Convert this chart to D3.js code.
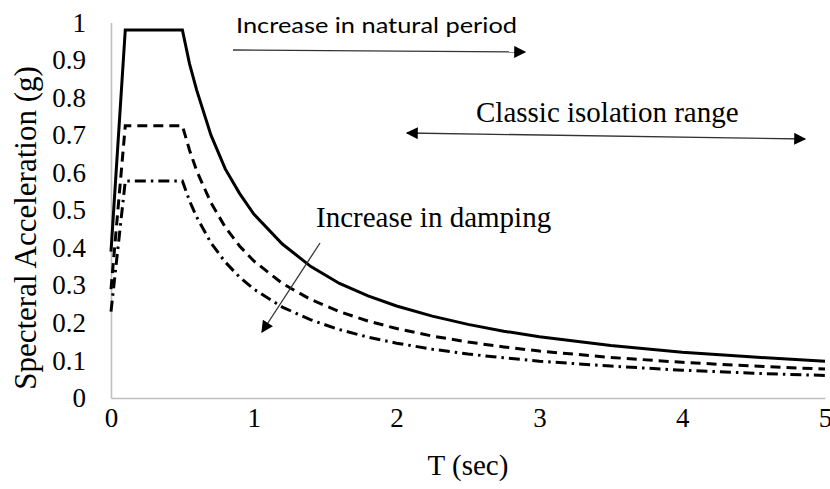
<!DOCTYPE html>
<html>
<head>
<meta charset="utf-8">
<script src="https://cdn.jsdelivr.net/npm/d3@7"></script>
<style>
  html, body { margin: 0; padding: 0; background: #fff; }
  svg { display: block; }
</style>
</head>
<body>
<svg id="chart" width="830" height="489"></svg>
<script>
// ---- data ----
const periods = [0, 0.1, 0.5, 0.55, 0.6, 0.7, 0.8, 0.9, 1.0, 1.2, 1.4, 1.6, 1.8, 2.0, 2.25, 2.5, 2.75, 3.0, 3.5, 4.0, 4.5, 5.0];
const saLowDamping  = [0.39, 0.98, 0.98, 0.89, 0.82, 0.70, 0.61, 0.545, 0.49, 0.41, 0.35, 0.305, 0.272, 0.245, 0.218, 0.196, 0.178, 0.163, 0.14, 0.122, 0.109, 0.098];
const saMidDamping  = [0.29, 0.725, 0.725, 0.66, 0.605, 0.52, 0.455, 0.405, 0.365, 0.305, 0.262, 0.23, 0.205, 0.185, 0.165, 0.149, 0.136, 0.125, 0.108, 0.095, 0.085, 0.077];
const saHighDamping = [0.23, 0.578, 0.578, 0.525, 0.482, 0.413, 0.362, 0.322, 0.29, 0.242, 0.208, 0.182, 0.162, 0.146, 0.13, 0.117, 0.107, 0.098, 0.085, 0.074, 0.066, 0.06];
const xTicks = [0, 1, 2, 3, 4, 5];
const yTicks = [0, 0.1, 0.2, 0.3, 0.4, 0.5, 0.6, 0.7, 0.8, 0.9, 1];
const xTitle = "T (sec)";
const yTitle = "Specteral Acceleration (g)";
const notePeriod = "Increase in natural period";
const noteIsolation = "Classic isolation range";
const noteDamping = "Increase in damping";

// ---- layout ----
const svg = d3.select("#chart");
const x = d3.scaleLinear().domain([0, 5]).range([111, 825]);
const y = d3.scaleLinear().domain([0, 1]).range([398, 22.5]);
const serif = "'Liberation Serif', 'Times New Roman', serif";
const axisGrey = "#bfbfbf";

// arrow markers
const defs = svg.append("defs");
defs.append("marker").attr("id", "arrowEnd")
  .attr("viewBox", "0 0 10 10").attr("refX", 9).attr("refY", 5)
  .attr("markerWidth", 14).attr("markerHeight", 12).attr("markerUnits", "userSpaceOnUse")
  .attr("orient", "auto")
  .append("path").attr("d", "M0,0 L10,5 L0,10 z").attr("fill", "#000");
defs.append("marker").attr("id", "arrowStart")
  .attr("viewBox", "0 0 10 10").attr("refX", 1).attr("refY", 5)
  .attr("markerWidth", 14).attr("markerHeight", 12).attr("markerUnits", "userSpaceOnUse")
  .attr("orient", "auto")
  .append("path").attr("d", "M10,0 L0,5 L10,10 z").attr("fill", "#000");

// axes
const xAxis = d3.axisBottom(x).tickValues(xTicks).tickSize(0).tickPadding(10).tickFormat(d3.format("d"));
const yAxis = d3.axisLeft(y).tickValues(yTicks).tickSize(0).tickPadding(25).tickFormat(d => d === 0 || d === 1 ? String(d) : d3.format(".1f")(d));

const gx = svg.append("g").attr("transform", `translate(0,${y(0)})`).call(xAxis);
const gy = svg.append("g").attr("transform", `translate(${x(0)},0)`).call(yAxis);
[gx, gy].forEach(g => {
  g.select(".domain").attr("stroke", axisGrey).attr("stroke-width", 1.6);
  g.selectAll("text").attr("font-family", serif).attr("font-size", 27).attr("fill", "#000");
});
gx.selectAll("text").attr("dy", "0.71em");

// axis titles
svg.append("text").attr("x", (x(0) + x(5)) / 2).attr("y", 475)
  .attr("text-anchor", "middle").attr("font-family", serif).attr("font-size", 29).text(xTitle);
svg.append("text").attr("transform", "translate(36,228) rotate(-90)")
  .attr("text-anchor", "middle").attr("font-family", serif).attr("font-size", 31).text(yTitle);

// curves
const series = [
  { values: saLowDamping,  dash: null,             width: 3 },
  { values: saMidDamping,  dash: "10,6",           width: 3 },
  { values: saHighDamping, dash: "11,5,2.5,5",     width: 3 }
];
const line = d3.line().x(d => x(d[0])).y(d => y(d[1])).curve(d3.curveLinear);
series.forEach(s => {
  svg.append("path")
    .datum(periods.map((t, i) => [t, s.values[i]]))
    .attr("d", line)
    .attr("fill", "none").attr("stroke", "#000")
    .attr("stroke-width", s.width)
    .attr("stroke-dasharray", s.dash)
    .attr("stroke-linejoin", "miter");
});

// annotations
svg.append("text").attr("x", 236).attr("y", 33)
  .attr("font-family", "Lato, 'Open Sans', sans-serif").attr("font-size", 21)
  .attr("textLength", 281).attr("lengthAdjust", "spacingAndGlyphs").text(notePeriod);
svg.append("line").attr("x1", 233).attr("y1", 50).attr("x2", 525).attr("y2", 52)
  .attr("stroke", "#333").attr("stroke-width", 1.3).attr("marker-end", "url(#arrowEnd)");

svg.append("text").attr("x", 476).attr("y", 122)
  .attr("font-family", serif).attr("font-size", 29).text(noteIsolation);
svg.append("line").attr("x1", 407).attr("y1", 133).attr("x2", 805).attr("y2", 139)
  .attr("stroke", "#333").attr("stroke-width", 1.3)
  .attr("marker-start", "url(#arrowStart)").attr("marker-end", "url(#arrowEnd)");

svg.append("text").attr("x", 316).attr("y", 227)
  .attr("font-family", serif).attr("font-size", 29).text(noteDamping);
svg.append("line").attr("x1", 320).attr("y1", 243).attr("x2", 262).attr("y2", 332)
  .attr("stroke", "#333").attr("stroke-width", 1.3).attr("marker-end", "url(#arrowEnd)");
</script>
</body>
</html>
